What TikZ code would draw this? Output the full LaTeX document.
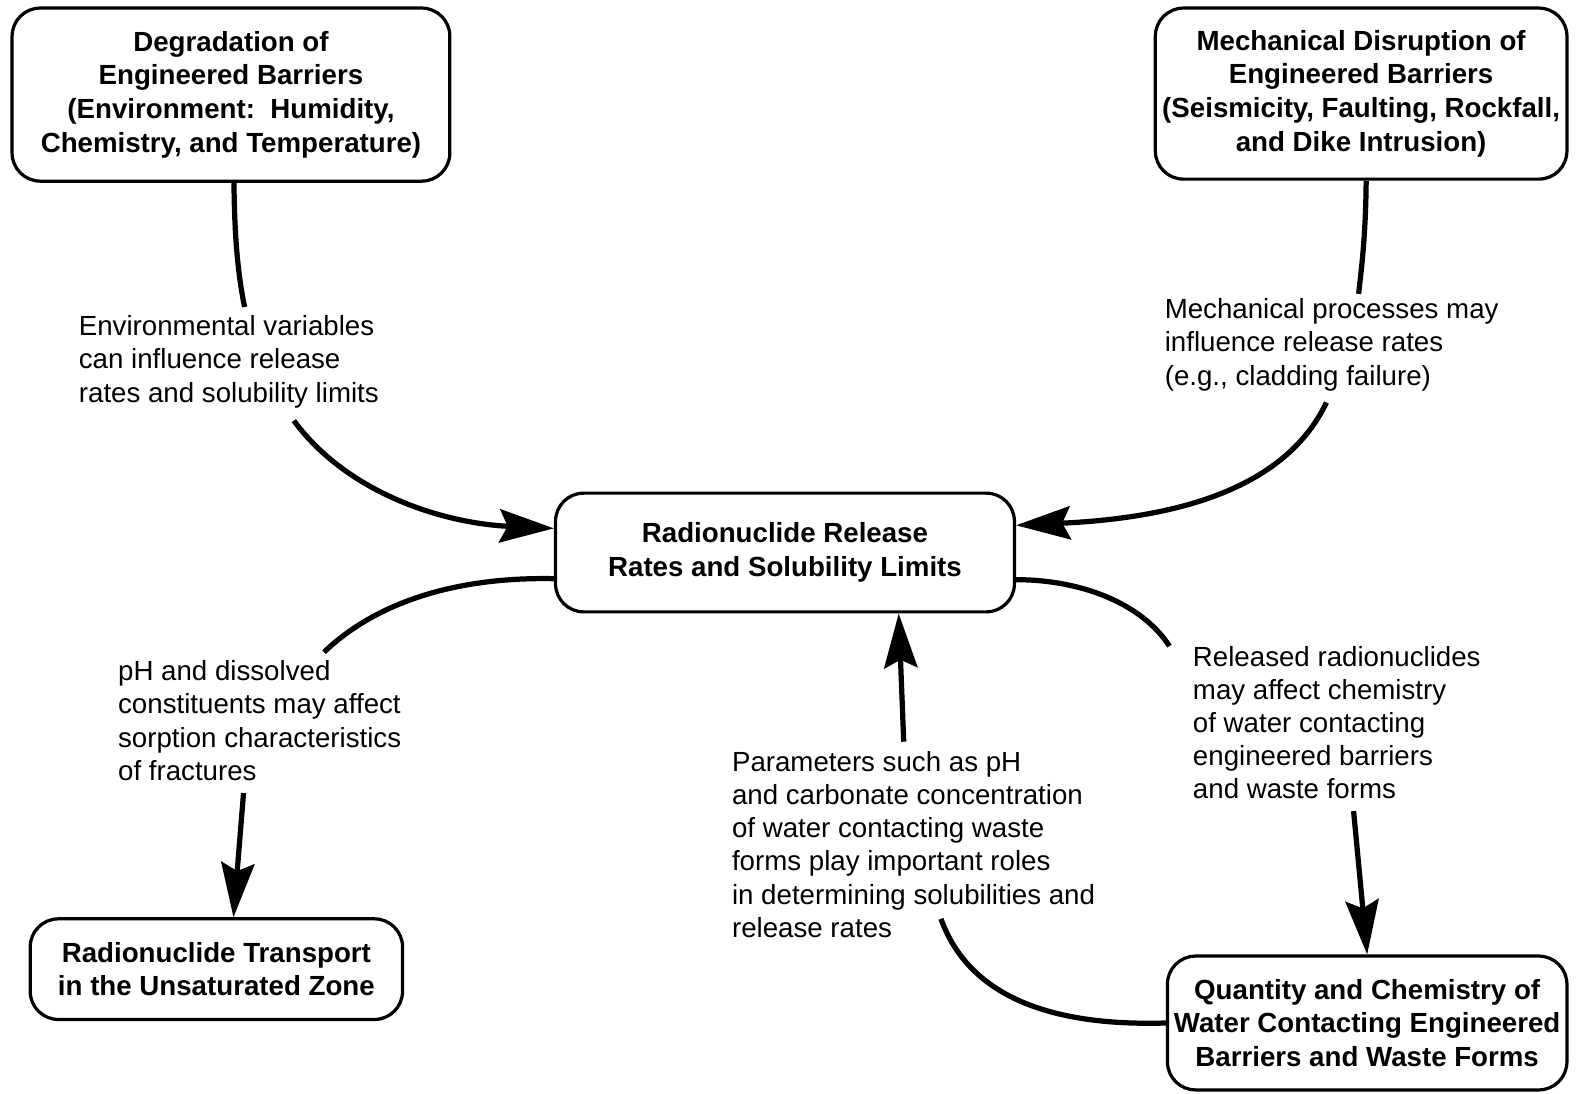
\documentclass[tikz,border=0pt]{standalone}
\usepackage{fontspec}
\setmainfont{Liberation Sans}
\usetikzlibrary{arrows.meta}

\tikzset{
  unitbox/.style={draw, line width=1.6pt, rounded corners=14pt, align=center, inner sep=0pt,
    font=\bfseries\fontsize{13.75}{16.75}\selectfont},
  note/.style={align=left, inner sep=0pt, anchor=west, font=\fontsize{13.75}{16.5}\selectfont},
  link/.style={line width=2.6pt},
  arrowlink/.style={link, -{Stealth[length=27pt,width=16.5pt,inset=4pt]}},
}

\begin{document}
\begin{tikzpicture}[x=0.5pt,y=0.5pt,yscale=-1,xscale=1]
\useasboundingbox (0,0) rectangle (1568,1087);

%Shape: Box
\node[unitbox, minimum width=217.5pt, minimum height=86pt] (degr) at (229.5,94) {Degradation of\\Engineered Barriers\\(Environment:\ \ Humidity,\\Chemistry, and Temperature)};
%Shape: Box
\node[unitbox, minimum width=204.5pt, minimum height=85pt] (mech) at (1352.5,93) {Mechanical Disruption of\\Engineered Barriers\\(Seismicity, Faulting, Rockfall,\\and Dike Intrusion)};
%Shape: Box
\node[unitbox, minimum width=228pt, minimum height=59pt] (rel) at (780,549) {Radionuclide Release\\Rates and Solubility Limits};
%Shape: Box
\node[unitbox, minimum width=185pt, minimum height=50pt] (trans) at (215,963) {Radionuclide Transport\\in the Unsaturated Zone};
%Shape: Box
\node[unitbox, minimum width=198.5pt, minimum height=66.5pt] (water) at (1358.5,1016.5) {Quantity and Chemistry of\\Water Contacting Engineered\\Barriers and Waste Forms};

% Text Node
\node[note] (envnote) at (78,359.5) {Environmental variables\\can influence release\\rates and solubility limits};
% Text Node
\node[note] (mechnote) at (1157,342.5) {Mechanical processes may\\influence release rates\\(e.g., cladding failure)};
% Text Node
\node[note] (phnote) at (117,716) {pH and dissolved\\constituents may affect\\sorption characteristics\\of fractures};
% Text Node
\node[note] (relnote) at (1185,718) {Released radionuclides\\may affect chemistry\\of water contacting\\engineered barriers\\and waste forms};
% Text Node
\node[note] (parnote) at (727,839) {Parameters such as pH\\and carbonate concentration\\of water contacting waste\\forms play important roles\\in determining solubilities and\\release rates};

% ends of the connectors at the texts
\coordinate (env-a) at (243,305);
\coordinate (env-b) at (292,418);
\coordinate (mech-a) at (1350,292);
\coordinate (mech-b) at (1318,400);
\coordinate (ph-a) at (322,648);
\coordinate (ph-b) at (242,788);
\coordinate (rel-a) at (1162,642);
\coordinate (rel-b) at (1345,806);
\coordinate (par-a) at (935,913);
\coordinate (par-b) at (898,737);

%Connectors (yscale=-1 flips yshift too)
\draw[link] ([xshift=1.5pt]degr.south) .. controls (233,240) and (237,275) .. (env-a);
\draw[arrowlink] (env-b) .. controls (345,490) and (440,520) .. ([yshift=-12pt]rel.west);
\draw[link] ([xshift=2.5pt]mech.south) .. controls (1357,235) and (1353,265) .. (mech-a);
\draw[arrowlink] (mech-b) .. controls (1275,490) and (1160,515) .. ([yshift=-13.5pt]rel.east);
\draw[link] ([yshift=13pt]rel.west) .. controls (450,573) and (372,600) .. (ph-a);
\draw[arrowlink] (ph-b) -- ([xshift=8.5pt]trans.north);
\draw[link] ([yshift=13.5pt]rel.east) .. controls (1075,576) and (1135,600) .. (rel-a);
\draw[arrowlink] (rel-b) -- (water.north);
\draw[link] (water.west) .. controls (1040,1020) and (962,988) .. (par-a);
\draw[arrowlink] (par-b) -- ([xshift=56.5pt]rel.south);

\end{tikzpicture}
\end{document}
